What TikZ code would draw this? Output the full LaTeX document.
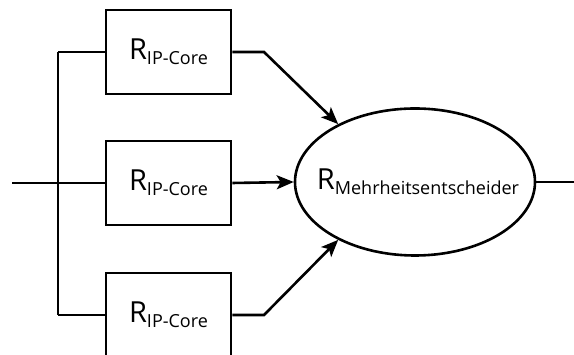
\documentclass[tikz,border=0pt]{standalone}
\usepackage{fontspec}
\setmainfont{Open Sans}
\usetikzlibrary{shapes.geometric,arrows.meta}
\newcommand{\Rsub}[1]{{\fontsize{29}{30}\selectfont R}\raisebox{-5pt}{\fontsize{18}{20}\selectfont #1}}
\begin{document}
\begin{tikzpicture}[x=1pt,y=1pt,
  line/.style={line width=2.6pt},
  core/.style={draw,line width=2.6pt,minimum width=125pt,minimum height=84pt,inner sep=0pt},
  arr/.style={line width=2.6pt,-{Stealth[length=17pt,width=14pt,inset=4pt]}}]
\useasboundingbox (0,0) rectangle (574,355);
\node[core] (b1) at (168.5,303) {\Rsub{IP-Core}};
\node[core] (b2) at (168.5,172) {\Rsub{IP-Core}};
\node[core] (b3) at (168.5,40) {\Rsub{IP-Core}};
\node[draw,ellipse,line width=2.6pt,minimum width=240pt,minimum height=147pt,inner sep=0pt] (e) at (415,173) {};
\node (et) at (418,173) {\Rsub{Mehrheitsentscheider}};
\coordinate (in) at (12,172);
\coordinate (vt) at (58,303);
\coordinate (vb) at (58,40);
\coordinate (k1) at (264,303);
\coordinate (k3) at (264,40);
\coordinate (out) at (574,173);
\draw[line] (vt) -- (vb);
\draw[line] (vt) -- (b1.west);
\draw[line] (vb) -- (b3.west);
\draw[line] (in) -- (b2.west);
\draw[arr] (b1.east) -- (k1) -- (e.143);
\draw[arr] (b3.east) -- (k3) -- (e.217);
\draw[arr] (b2.east) -- (e.west);
\draw[line] (e.east) -- (out);
\end{tikzpicture}
\end{document}
